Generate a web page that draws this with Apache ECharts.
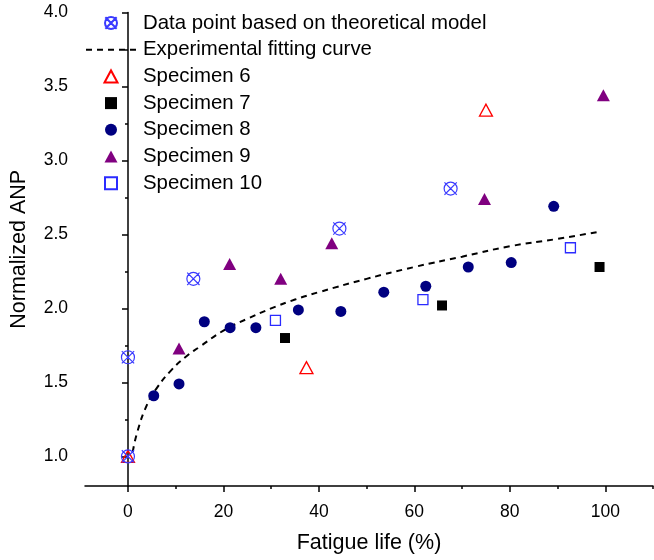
<!DOCTYPE html>
<html>
<head>
<meta charset="utf-8">
<script src="https://cdn.jsdelivr.net/npm/echarts@6/dist/echarts.min.js"></script>
<style>html,body{margin:0;padding:0;background:#fff}#c{width:654px;height:560px}</style>
</head>
<body>
<div id="c"></div>
<script>
// ---- data ----
const theoryX = [0, 0, 13.7, 44.3, 67.6];
const theoryY = [1.0, 1.67, 2.20, 2.54, 2.81];
const spec6X = [0, 37.4, 75.0];
const spec6Y = [1.0, 1.60, 3.34];
const spec7X = [32.9, 65.8, 98.8];
const spec7Y = [1.80, 2.02, 2.28];
const spec8X = [5.4, 10.7, 16.0, 21.4, 26.8, 35.7, 44.6, 53.6, 62.4, 71.3, 80.3, 89.2];
const spec8Y = [1.41, 1.49, 1.91, 1.87, 1.87, 1.99, 1.98, 2.11, 2.15, 2.28, 2.31, 2.69];
const spec9X = [10.7, 21.3, 32.0, 42.7, 74.7, 99.6];
const spec9Y = [1.73, 2.30, 2.20, 2.44, 2.74, 3.44];
const spec10X = [30.9, 61.8, 92.7];
const spec10Y = [1.92, 2.06, 2.41];
const fitX = [1, 2, 4, 6, 9, 12, 15, 20, 25, 30, 35, 40, 50, 60, 70, 80, 90, 99];
const fitY = [1.03, 1.17, 1.35, 1.46, 1.58, 1.67, 1.74, 1.85, 1.93, 2.00, 2.06, 2.11, 2.20, 2.28, 2.35, 2.42, 2.47, 2.52];
const xMajorTicks = [0, 20, 40, 60, 80, 100];
const xMinorTicks = [10, 30, 50, 70, 90, 110];
const yMajorTicks = [1.0, 1.5, 2.0, 2.5, 3.0, 3.5, 4.0];
const yMinorTicks = [1.25, 1.75, 2.25, 2.75, 3.25, 3.75];
const seriesNames = ['Data point based on theoretical model', 'Experimental fitting curve',
  'Specimen 6', 'Specimen 7', 'Specimen 8', 'Specimen 9', 'Specimen 10'];

const zip = (xs, ys) => xs.map((x, i) => [x, ys[i]]);
const FONT = '"Liberation Sans", Arial, sans-serif';
const circleX = 'path://M10,0.5A9.5,9.5 0 1,1 9.99,0.5Z M1,1L19,19 M19,1L1,19';
const triPath = 'path://M0,12L6.5,0L13,12Z';
const rectPath = 'path://M0,0L10,0L10,10L0,10Z';

const chart = echarts.init(document.getElementById('c'), null, {renderer: 'canvas'});
const axisCommon = {
  axisLine: {show: true, lineStyle: {color: '#000', width: 1.5}},
  splitLine: {show: false}
};
chart.setOption({
  animation: false,
  backgroundColor: '#fff',
  textStyle: {fontFamily: FONT},
  grid: {left: 85, right: 1, top: 12.5, bottom: 74, containLabel: false},
  legend: {
    orient: 'vertical', left: 85, top: 13, padding: 0,
    itemWidth: 50, itemHeight: 12, itemGap: 6.7, symbolKeepAspect: true,
    textStyle: {fontSize: 20.4, color: '#000', fontFamily: FONT, lineHeight: 20, padding: [0, 0, 0, 2]},
    data: [
      seriesNames[0],
      {name: seriesNames[1], itemStyle: {color: 'rgba(0,0,0,0)', borderWidth: 0, opacity: 0}},
      seriesNames[2], seriesNames[3], seriesNames[4], seriesNames[5], seriesNames[6]
    ]
  },
  xAxis: [
    Object.assign({}, axisCommon, {
      type: 'value', min: -9, max: 110, position: 'bottom',
      name: 'Fatigue life (%)', nameLocation: 'middle', nameGap: 46,
      nameTextStyle: {fontSize: 21.5, color: '#000', fontFamily: FONT},
      axisTick: {show: true, inside: false, length: 6, lineStyle: {color: '#000', width: 1.5}, customValues: xMajorTicks},
      axisLabel: {show: true, fontSize: 17.5, color: '#000', margin: 17, fontFamily: FONT, customValues: xMajorTicks}
    }),
    {
      type: 'value', min: -9, max: 110, position: 'bottom',
      axisLine: {show: false}, splitLine: {show: false}, axisLabel: {show: false},
      axisTick: {show: true, length: 3, lineStyle: {color: '#000', width: 1.5}, customValues: xMinorTicks}
    }
  ],
  yAxis: [
    Object.assign({}, axisCommon, {
      type: 'value', min: 0.8, max: 4.0, position: 'left',
      name: 'Normalized ANP', nameLocation: 'middle', nameGap: 55, nameRotate: 90,
      nameTextStyle: {fontSize: 21.5, color: '#000', fontFamily: FONT},
      axisTick: {show: true, inside: false, length: 6, lineStyle: {color: '#000', width: 1.5}, customValues: yMajorTicks},
      axisLabel: {show: true, fontSize: 17.5, color: '#000', margin: 17, fontFamily: FONT,
        customValues: yMajorTicks, formatter: v => v.toFixed(1)}
    }),
    {
      type: 'value', min: 0.8, max: 4.0, position: 'left',
      axisLine: {show: false}, splitLine: {show: false}, axisLabel: {show: false},
      axisTick: {show: true, length: 3, lineStyle: {color: '#000', width: 1.5}, customValues: yMinorTicks}
    }
  ],
  series: [
    {
      name: seriesNames[1], type: 'line', data: zip(fitX, fitY), smooth: true,
      symbol: 'none', lineStyle: {color: '#000', width: 2, type: [6, 5]}, itemStyle: {color: '#000'}, z: 1
    },
    {
      name: seriesNames[2], type: 'scatter', data: zip(spec6X, spec6Y), symbol: triPath, symbolSize: [13, 12],
      itemStyle: {color: 'rgba(255,255,255,0)', borderColor: '#ff0000', borderWidth: 1.3, opacity: 1}, z: 3
    },
    {
      name: seriesNames[3], type: 'scatter', data: zip(spec7X, spec7Y), symbol: rectPath, symbolSize: 10,
      itemStyle: {color: '#000', opacity: 1}, z: 3
    },
    {
      name: seriesNames[4], type: 'scatter', data: zip(spec8X, spec8Y), symbol: 'circle', symbolSize: 11,
      itemStyle: {color: '#000080', opacity: 1}, z: 3
    },
    {
      name: seriesNames[5], type: 'scatter', data: zip(spec9X, spec9Y), symbol: triPath, symbolSize: [13, 12],
      itemStyle: {color: '#800080', opacity: 1}, z: 3
    },
    {
      name: seriesNames[6], type: 'scatter', data: zip(spec10X, spec10Y), symbol: rectPath, symbolSize: 10,
      itemStyle: {color: 'rgba(255,255,255,0)', borderColor: '#2b2bff', borderWidth: 1.3, opacity: 1}, z: 3
    },
    {
      name: seriesNames[0], type: 'scatter', data: zip(theoryX, theoryY), symbol: circleX, symbolSize: 13,
      itemStyle: {color: 'rgba(255,255,255,0)', borderColor: '#3a3aff', borderWidth: 1.2, opacity: 1}, z: 4
    }
  ]
});
</script>
</body>
</html>
